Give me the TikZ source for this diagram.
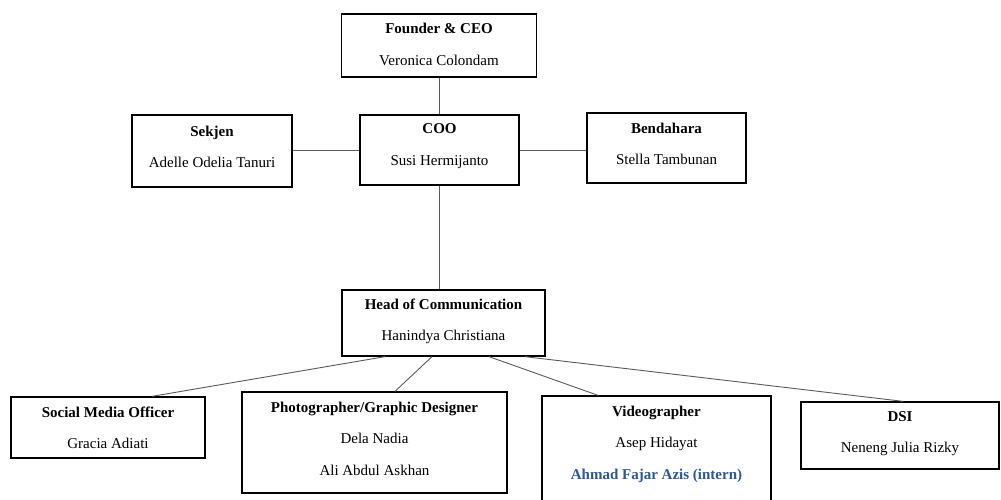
\documentclass[tikz,border=0pt]{standalone}
\usepackage{fontspec}
\setmainfont{Liberation Serif}
\usetikzlibrary{calc}
\definecolor{internblue}{RGB}{46,88,140}
\definecolor{linkgray}{RGB}{90,90,90}
\tikzset{
  box/.style={draw=black, line width=1.3pt, rectangle, inner sep=0pt},
  txt/.style={align=center, inner sep=0pt, font=\fontsize{15}{31.5}\selectfont},
  link/.style={draw=linkgray, line width=0.9pt}
}
\begin{document}
\begin{tikzpicture}[x=1pt,y=-1pt]
\useasboundingbox (0,0) rectangle (1001,500);
\clip (0,0) rectangle (1001,500);
% boxes
\node[box, minimum width=195pt, minimum height=63pt] (founder) at (439,45.5) {};
\node[box, minimum width=159pt, minimum height=70pt] (coo) at (439.5,150) {};
\node[box, minimum width=160pt, minimum height=72pt] (sekjen) at (212,151) {};
\node[box, minimum width=159pt, minimum height=70pt] (bendahara) at (666.5,148) {};
\node[box, minimum width=203pt, minimum height=66pt] (head) at (443.5,323) {};
\node[box, minimum width=194pt, minimum height=61pt] (social) at (108,427.5) {};
\node[box, minimum width=265pt, minimum height=101pt] (photo) at (374.5,442.5) {};
\node[box, minimum width=229pt, minimum height=108pt] (video) at (656.5,450) {};
\node[box, minimum width=198pt, minimum height=67pt] (dsi) at (900,435.5) {};
% texts
\node[txt] (founderT) at (439,44.5) {\textbf{Founder \& CEO}\\Veronica Colondam};
\node[txt] (cooT) at (439.5,146) {\textbf{COO}\\Susi Hermijanto};
\node[txt] (sekjenT) at (212,147) {\textbf{Sekjen}\\Adelle Odelia Tanuri};
\node[txt] (bendaharaT) at (666.5,144) {\textbf{Bendahara}\\Stella Tambunan};
\node[txt] (headT) at (443.5,321.5) {\textbf{Head of Communication}\\Hanindya Christiana};
\node[txt] (socialT) at (108,428) {\textbf{Social Media Officer}\\Gracia Adiati};
\node[txt] (photoT) at (374.5,438.5) {\textbf{Photographer/Graphic Designer}\\Dela Nadia\\Ali Abdul Askhan};
\node[txt] (videoT) at (656.5,444) {\textbf{Videographer}\\Asep Hidayat\\\textcolor{internblue}{\textbf{Ahmad Fajar Azis (intern)}}};
\node[txt] (dsiT) at (900,433.5) {\textbf{DSI}\\Neneng Julia Rizky};
% connectors
\draw[link] (founder.south) -- (founder.south |- coo.north);
\draw[link] (coo.west) -- (coo.west -| sekjen.east);
\draw[link] (coo.east) -- (coo.east -| bendahara.west);
\draw[link] (coo.south) -- (coo.south |- head.north);
\draw[link] ([xshift=-58.5pt]head.south) -- ([xshift=44pt]social.north);
\draw[link] ([xshift=-11.5pt]head.south) -- ([xshift=20.5pt]photo.north);
\draw[link] ([xshift=45.5pt]head.south) -- ([xshift=-58.5pt]video.north);
\draw[link] ([xshift=81.5pt]head.south) -- ([xshift=3pt]dsi.north);
\end{tikzpicture}
\end{document}
